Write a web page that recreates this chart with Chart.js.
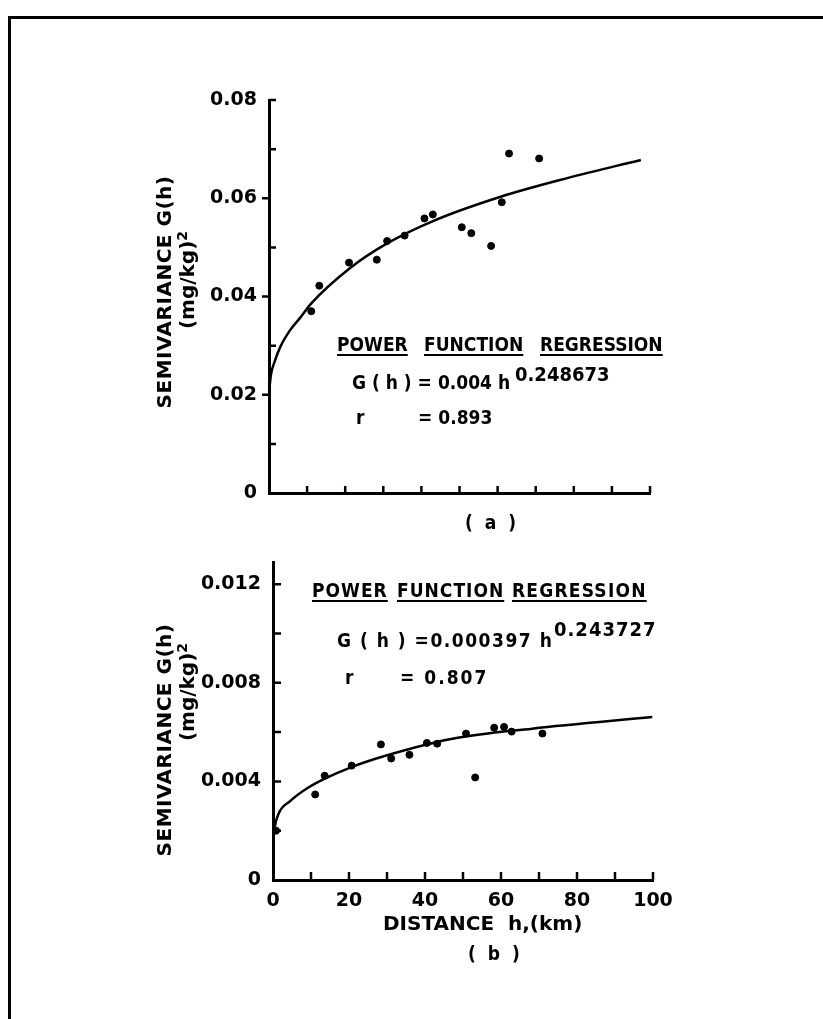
<!DOCTYPE html>
<html>
<head>
<meta charset="utf-8">
<script src="https://cdn.jsdelivr.net/npm/chart.js@4.4.0/dist/chart.umd.min.js"></script>
<style>
  body { margin: 0; background: #fff; }
  #page { position: relative; width: 823px; height: 1019px; overflow: hidden; background: #fff; }
  #frame { position: absolute; left: 8px; top: 16px; width: 830px; height: 1100px;
           border-top: 3px solid #000; border-left: 3px solid #000; }
  canvas { position: absolute; left: 0; top: 0; }
  .t { position: absolute; white-space: nowrap; line-height: 1; color: #000;
       font-family: "DejaVu Sans Condensed", "DejaVu Sans", sans-serif; font-weight: bold; font-size: 19px; }
  .w { font-family: "DejaVu Sans", sans-serif; font-size: 20px; }
  .u { text-decoration: underline; text-decoration-thickness: 2px; text-underline-offset: 3px; }
  .sup { font-size: 20px; }
  .rot { transform: translate(-50%, -50%) rotate(-90deg); }
</style>
</head>
<body>
<div id="page">
  <div id="frame"></div>
  <canvas id="chartA" width="823" height="560"></canvas>
  <canvas id="chartB" width="823" height="1019"></canvas>

  <!-- (a) texts -->
  <div class="t w rot" style="left:164px; top:292px; letter-spacing:0.5px;">SEMIVARIANCE G(h)</div>
  <div class="t w rot" style="left:186px; top:280px;">(mg/kg)<sup style="font-size:14px">2</sup></div>
  <div class="t u" style="left:337px; top:335px;">POWER</div>
  <div class="t u" style="left:424px; top:335px;">FUNCTION</div>
  <div class="t u" style="left:540px; top:335px;">REGRESSION</div>
  <div class="t" style="left:352px; top:373px;">G ( h ) = 0.004 h</div>
  <div class="t sup" style="left:515px; top:364px;">0.248673</div>
  <div class="t" style="left:356px; top:408px;">r</div>
  <div class="t" style="left:418px; top:408px;">= 0.893</div>
  <div class="t" style="left:465px; top:513px; letter-spacing:3px;">( a )</div>

  <!-- (b) texts -->
  <div class="t w rot" style="left:164px; top:740px; letter-spacing:0.5px;">SEMIVARIANCE G(h)</div>
  <div class="t w rot" style="left:186px; top:692px;">(mg/kg)<sup style="font-size:14px">2</sup></div>
  <div class="t u" style="left:312px; top:581px; letter-spacing:1px;">POWER</div>
  <div class="t u" style="left:397px; top:581px; letter-spacing:1px;">FUNCTION</div>
  <div class="t u" style="left:512px; top:581px; letter-spacing:1.2px;">REGRESSION</div>
  <div class="t" style="left:337px; top:631px; letter-spacing:1.5px;">G ( h ) =0.000397 h</div>
  <div class="t sup" style="left:554px; top:619px; letter-spacing:1px;">0.243727</div>
  <div class="t" style="left:345px; top:668px;">r</div>
  <div class="t" style="left:400px; top:668px; letter-spacing:2px;">= 0.807</div>
  <div class="t w" style="left:383px; top:913px;">DISTANCE&nbsp; h,(km)</div>
  <div class="t" style="left:468px; top:944px; letter-spacing:3px;">( b )</div>
</div>

<script>
// (a) observed semivariance
var distA = [11.1, 13.2, 21.0, 28.3, 31.0, 35.6, 40.8, 43.0, 50.6, 53.1, 58.3, 61.1, 63.0, 70.9];
var semiA = [0.0370, 0.0422, 0.0469, 0.0475, 0.0513, 0.0524, 0.0559, 0.0567, 0.0541, 0.0529, 0.0503, 0.0592, 0.0691, 0.0681];
// (a) fitted curve
var fitDistA = [0, 0.5, 1.5, 3, 5.5, 8.2, 11.1, 21.3, 31.0, 43.2, 60.8, 78.3, 97.6];
var fitSemiA = [0.0203, 0.0240, 0.0268, 0.0298, 0.0331, 0.0357, 0.0386, 0.0458, 0.0508, 0.0554, 0.0603, 0.0641, 0.0678];

// (b) observed semivariance
var distB = [0.8, 11.1, 13.6, 20.7, 28.4, 31.1, 35.9, 40.5, 43.2, 50.8, 53.2, 58.2, 60.8, 62.8, 70.9];
var semiB = [0.0020, 0.00347, 0.00423, 0.00464, 0.00550, 0.00493, 0.00508, 0.00556, 0.00553, 0.00594, 0.00416, 0.00618, 0.00621, 0.00602, 0.00594];
// (b) fitted curve
var fitDistB = [0, 0.4, 1.5, 4.5, 8.8, 13.5, 21, 29.6, 47.2, 68.2, 99.8];
var fitSemiB = [0.0015, 0.0021, 0.0027, 0.0032, 0.0037, 0.0041, 0.0046, 0.00504, 0.00573, 0.00614, 0.00661];

var xTickLabels = ['0', '20', '40', '60', '80', '100'];

function pts(xs, ys) {
  return xs.map(function (x, i) { return { x: x, y: ys[i] }; });
}

function onStep(v, step) {
  var k = v / step;
  return Math.abs(k - Math.round(k)) < 1e-6;
}

// small tick marks drawn from the scales
var tickMarks = {
  id: 'tickMarks',
  afterDraw: function (chart, args, opts) {
    var ctx = chart.ctx, a = chart.chartArea;
    var xs = chart.scales.x, ys = chart.scales.y;
    ctx.save();
    ctx.strokeStyle = '#000';
    ctx.lineWidth = 2.5;
    ctx.beginPath();
    xs.ticks.forEach(function (t) {
      if (t.value <= 0) return;
      var px = xs.getPixelForValue(t.value);
      ctx.moveTo(px, a.bottom);
      ctx.lineTo(px, a.bottom - opts.len);
    });
    ys.ticks.forEach(function (t) {
      if (t.value <= 0) return;
      var py = ys.getPixelForValue(t.value);
      var out = opts.major && onStep(t.value, opts.major) && t.value < ys.max;
      ctx.moveTo(a.left, py);
      ctx.lineTo(out ? a.left - opts.len : a.left + opts.len, py);
    });
    ctx.stroke();
    ctx.restore();
  }
};

var tickFont = { family: 'DejaVu Sans', weight: 'bold', size: 19 };

function makeChart(id, cfg) {
  return new Chart(document.getElementById(id), {
    type: 'scatter',
    data: {
      datasets: [{
        type: 'line',
        data: pts(cfg.fitX, cfg.fitY),
        borderColor: '#000',
        borderWidth: 2.5,
        pointRadius: 0,
        fill: false,
        cubicInterpolationMode: 'monotone'
      }, {
        data: pts(cfg.x, cfg.y),
        backgroundColor: '#000',
        borderColor: '#000',
        pointRadius: 3.5
      }]
    },
    options: {
      responsive: false,
      animation: false,
      layout: { padding: { left: 0, right: cfg.right, top: cfg.top, bottom: 0 } },
      plugins: {
        legend: { display: false },
        tooltip: { enabled: false },
        tickMarks: { len: cfg.tickLen, major: cfg.major }
      },
      scales: {
        x: {
          type: 'linear', min: 0, max: 100,
          grid: { display: false, drawTicks: false },
          border: { color: '#000', width: 3 },
          ticks: {
            stepSize: 10, autoSkip: false, maxRotation: 0, padding: 10,
            color: '#000', font: tickFont,
            callback: function (v) {
              if (!cfg.showX) return '';
              var i = xTickLabels.indexOf(String(v));
              return i >= 0 ? xTickLabels[i] : '';
            }
          },
          afterFit: function (s) { s.height = cfg.xHeight; }
        },
        y: {
          min: 0, max: cfg.yMax,
          grid: { display: false, drawTicks: false },
          border: { color: '#000', width: 3 },
          ticks: {
            stepSize: cfg.yStep, autoSkip: false, padding: 12,
            color: '#000', font: tickFont,
            callback: function (v) {
              if (!onStep(v, cfg.yLabelStep)) return '';
              return Math.abs(v) < 1e-12 ? '0' : v.toFixed(cfg.digits);
            }
          },
          afterBuildTicks: function (s) {
            s.ticks = s.ticks.filter(function (t) { return onStep(t.value, cfg.yStep); });
          },
          afterFit: function (s) { s.width = cfg.yWidth; }
        }
      }
    },
    plugins: [tickMarks]
  });
}

makeChart('chartA', {
  x: distA, y: semiA, fitX: fitDistA, fitY: fitSemiA,
  yMax: 0.08, yStep: 0.01, yLabelStep: 0.02, digits: 2,
  top: 100, right: 173, yWidth: 269, xHeight: 67,
  tickLen: 7, major: 0.02, showX: false
});

makeChart('chartB', {
  x: distB, y: semiB, fitX: fitDistB, fitY: fitSemiB,
  yMax: 0.0129, yStep: 0.002, yLabelStep: 0.004, digits: 3,
  top: 562, right: 170, yWidth: 273, xHeight: 139,
  tickLen: 8, major: null, showX: true
});
</script>
</body>
</html>
